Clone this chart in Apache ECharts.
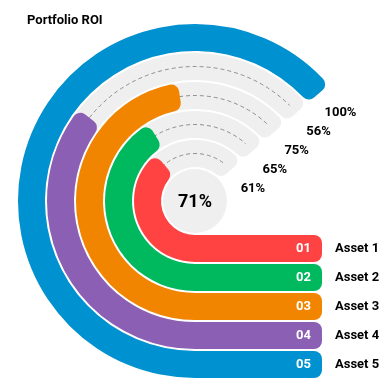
<!DOCTYPE html>
<html>
<head>
<meta charset="utf-8">
<script src="https://cdn.jsdelivr.net/npm/echarts@6/dist/echarts.min.js"></script>
<style>html,body{margin:0;padding:0;background:#fff;}#chart{width:384px;height:390px;}</style>
</head>
<body>
<div id="chart"></div>
<script>
// ---- data ----
var assets = ['Asset 1', 'Asset 2', 'Asset 3', 'Asset 4', 'Asset 5'];
var codes = ['01', '02', '03', '04', '05'];
var roi = [61, 65, 75, 56, 100];
var trackFull = [100, 100, 100, 100, 100];
var tabLength = [1, 1, 1, 1, 1];
var title = 'Portfolio ROI';

// ---- styles ----
var colors = ['#FF4343', '#00B85E', '#F28500', '#8B5FB3', '#0092D0'];
var FONT = 'Roboto, "Noto Sans", sans-serif';
var SWEEP = 229; // degrees for 100%
var angleMax = 100 * 360 / SWEEP;
var BAND = 27;

var avg = Math.round(roi.reduce(function (a, b) { return a + b; }, 0) / roi.length);

var chart = echarts.init(document.getElementById('chart'), null, { renderer: 'canvas' });

var option = {
  animation: false,
  title: {
    text: title, left: 22, top: 9,
    textStyle: { fontFamily: FONT, fontWeight: 'bold', fontSize: 13, color: '#000' }
  },
  polar: { center: [195, 201], radius: [33, 178] },
  angleAxis: {
    type: 'value', min: 0, max: angleMax, startAngle: 270, clockwise: true,
    axisLine: { show: false }, axisTick: { show: false }, axisLabel: { show: false }, splitLine: { show: false }
  },
  radiusAxis: {
    type: 'category', data: assets,
    axisLine: { show: false }, axisTick: { show: false }, axisLabel: { show: false }, splitLine: { show: false }
  },
  grid: { left: 194, right: 62, top: 234, height: 145 },
  xAxis: { type: 'value', min: 0, max: 1, show: false },
  yAxis: {
    type: 'category', data: assets, inverse: true, position: 'right',
    axisLine: { show: false }, axisTick: { show: false },
    axisLabel: { margin: 13, fontFamily: FONT, fontWeight: 'bold', fontSize: 13, color: '#000' }
  },
  series: [
    {
      type: 'custom', coordinateSystem: 'polar', z: 1, silent: true,
      data: roi.map(function (v, i) { return [i, v]; }),
      renderItem: function (params, api) {
        var cs = params.coordSys;
        var cx = cs.cx, cy = cs.cy;
        var idx = api.value(0);
        var p0 = api.coord([idx, 0]);
        var p1 = api.coord([idx, trackFull[idx]]);
        var r = Math.sqrt((p0[0] - cx) * (p0[0] - cx) + (p0[1] - cy) * (p0[1] - cy));
        var a0 = Math.atan2(p0[1] - cy, p0[0] - cx);
        var a1 = Math.atan2(p1[1] - cy, p1[0] - cx);
        while (a1 <= a0) a1 += 2 * Math.PI;
        var aDash = a1 - 10 / r;
        var tx = p1[0] - Math.sin(a1) * 26 + 5;
        var ty = p1[1] + Math.cos(a1) * 26 - 1;
        return {
          type: 'group',
          children: [
            {
              type: 'sector',
              shape: { cx: cx, cy: cy, r0: r - BAND / 2, r: r + BAND / 2, startAngle: a0, endAngle: a1, clockwise: true, cornerRadius: [0, 8, 0, 8] },
              style: { fill: '#EFEFEF' }
            },
            {
              type: 'arc',
              shape: { cx: cx, cy: cy, r: r, startAngle: a0, endAngle: aDash, clockwise: true },
              style: { stroke: '#8F8F8F', lineWidth: 1, lineDash: [4, 3], fill: 'none' }
            },
            {
              type: 'text', x: tx, y: ty,
              style: {
                text: api.value(1) + '%', align: 'center', verticalAlign: 'middle',
                font: 'bold 13px ' + FONT, fill: '#000'
              }
            }
          ]
        };
      }
    },
    {
      type: 'bar', coordinateSystem: 'polar', barWidth: BAND, z: 3,
      data: roi.map(function (v, i) { return { value: v, itemStyle: { color: colors[i] } }; }),
      itemStyle: { borderRadius: [0, 8, 0, 8] }
    },
    {
      type: 'bar', xAxisIndex: 0, yAxisIndex: 0, barWidth: BAND, z: 3,
      data: tabLength.map(function (v, i) { return { value: v, itemStyle: { color: colors[i] } }; }),
      itemStyle: { borderRadius: [0, 8, 8, 0] },
      label: {
        show: true, position: 'insideRight', distance: 11,
        formatter: function (p) { return codes[p.dataIndex]; },
        color: '#fff', fontFamily: FONT, fontWeight: 'bold', fontSize: 13
      }
    },
    {
      type: 'custom', coordinateSystem: 'polar', z: 4,
      data: [[0, avg]],
      renderItem: function (params, api) {
        var cs = params.coordSys;
        return {
          type: 'group',
          children: [
            { type: 'circle', shape: { cx: cs.cx, cy: cs.cy, r: cs.r0 - 1 }, style: { fill: '#EFEFEF' } },
            {
              type: 'text', x: cs.cx, y: cs.cy + 1,
              style: { text: api.value(1) + '%', align: 'center', verticalAlign: 'middle', font: 'bold 18px ' + FONT, fill: '#000' }
            }
          ]
        };
      }
    }
  ]
};
chart.setOption(option);
</script>
</body>
</html>
